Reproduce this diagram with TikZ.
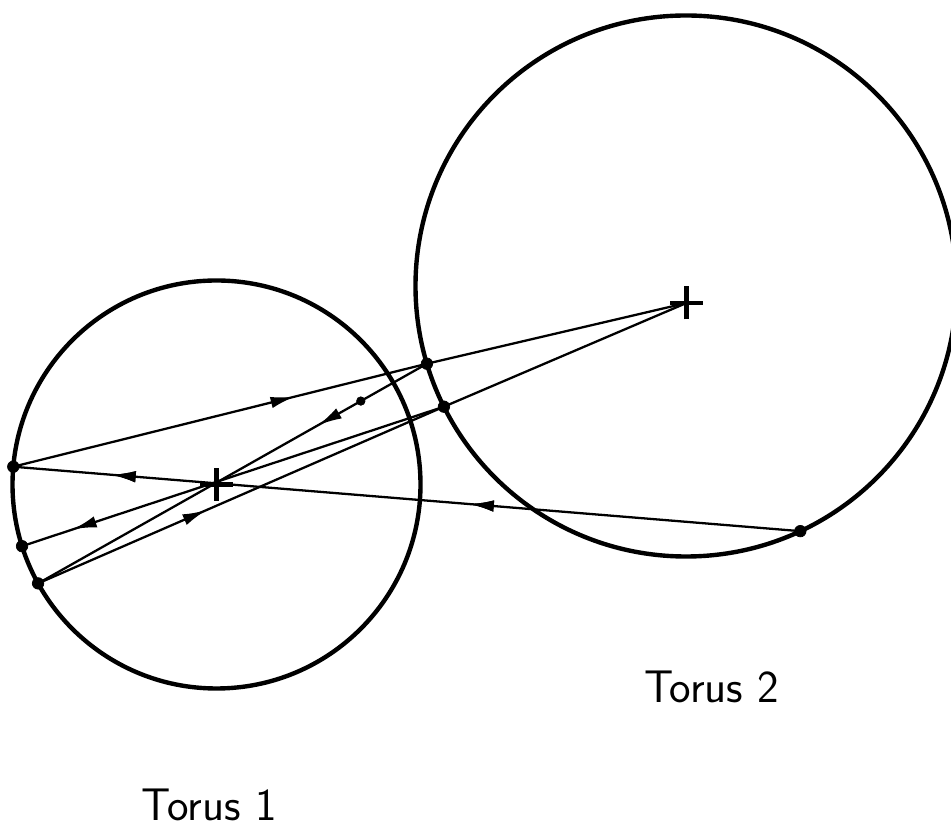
\documentclass[tikz,border=0pt]{standalone}
\usetikzlibrary{calc,arrows.meta,decorations.markings}

\tikzset{
  kreis/.style={line width=2.5pt},
  bahn/.style={line width=1.3pt},
  pfeilbei/.style={postaction={decorate},
    decoration={markings,mark=at position #1 with {\arrow{Latex[length=4.8mm,width=2.3mm]}}}},
  beschriftung/.style={font=\sffamily\fontsize{26}{30}\selectfont}
}
\newcommand{\Kreuz}[1]{%
  \draw[line width=2.5pt] ($(#1)+(-0.33,0)$) -- ($(#1)+(0.33,0)$);
  \draw[line width=2.5pt] ($(#1)+(0,-0.33)$) -- ($(#1)+(0,0.33)$);}

\begin{document}
\begin{tikzpicture}
  \pgfmathsetmacro{\RadiusEins}{4.08};
  \pgfmathsetmacro{\RadiusZwei}{5.41};
  \pgfmathsetmacro{\Punkt}{0.115};
  %
  \useasboundingbox (0,0) rectangle (19.02,16.54);
  \coordinate (O1) at (4.33,6.85);
  \coordinate (O2) at (13.72,10.82);
  \coordinate (P2) at (13.73,10.48);
  % points on torus 1
  \coordinate (A) at ($(O1)+(175:\RadiusEins)$);
  \coordinate (B) at ($(O1)+(197.6:\RadiusEins)$);
  \coordinate (C) at ($(O1)+(209:\RadiusEins)$);
  % points on torus 2
  \coordinate (D) at ($(O2)+(196.7:\RadiusZwei)$);
  \coordinate (E) at ($(O2)+(206.5:\RadiusZwei)$);
  \coordinate (F) at ($(O2)+(295:\RadiusZwei)$);
  \coordinate (G) at ($(D)!0.17!(C)$);
  %
  \draw[kreis] (O1) circle (\RadiusEins);
  \draw[kreis] (O2) circle (\RadiusZwei);
  \Kreuz{O1}
  \Kreuz{P2}
  % paths
  \draw[bahn,pfeilbei=0.42,pfeilbei=0.875] (F) -- (A);
  \draw[bahn,pfeilbei=0.68] (A) -- (D);
  \draw[bahn] (D) -- (P2);
  \draw[bahn,pfeilbei=0.28] (D) -- (C);
  \draw[bahn,pfeilbei=0.415] (C) -- (E);
  \draw[bahn] (E) -- (P2);
  \draw[bahn,pfeilbei=0.88] (E) -- (B);
  % points
  \foreach \p in {A,B,C,D,E,F}
    \draw[fill] (\p) circle (\Punkt);
  \draw[fill] (G) circle (0.085);
  % labels
  \node[beschriftung] (t1) at (4.18,0.44) {Torus 1};
  \node[beschriftung] (t2) at (14.23,2.81) {Torus 2};
\end{tikzpicture}
\end{document}
